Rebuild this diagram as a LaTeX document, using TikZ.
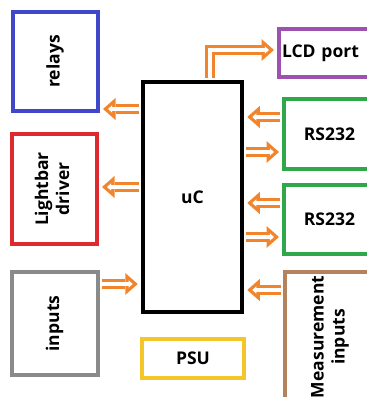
\documentclass[tikz,border=0pt]{standalone}
\usepackage{fontspec}
\setmainfont{Open Sans}
\usetikzlibrary{arrows.meta}
\definecolor{Orange}{HTML}{F2852B}
\definecolor{Blue}{HTML}{3F48C8}
\definecolor{Red}{HTML}{DC2A2E}
\definecolor{Gray}{HTML}{8A8A8A}
\definecolor{Purple}{HTML}{9C52AE}
\definecolor{Green}{HTML}{2EA84A}
\definecolor{Brown}{HTML}{B4825C}
\definecolor{Yellow}{HTML}{F4C62A}
\newcommand{\vtext}[1]{\rotatebox{90}{\begin{tabular}{@{}c@{}}#1\end{tabular}}}
\tikzset{
  blk/.style={draw=#1,line width=4pt,fill=white,inner sep=0pt,align=center,font=\fontsize{17.5}{21}\selectfont\bfseries},
  bus/.style={draw=Orange,line width=10.5pt,-{Triangle[length=12.5pt,width=22pt,line width=0pt]},shorten <=2pt,shorten >=3pt,
    postaction={draw=white,line width=3.9pt,-{Triangle[length=4.2pt,width=7.4pt,line width=0pt]},shorten <=2pt,shorten >=8pt}},
}

\begin{document}
\begin{tikzpicture}[x=1pt,y=-1pt]
        \path[use as bounding box] (0,0) rectangle (367,397);
        \clip (0,0) rectangle (367,397);
        % left column
        \node[blk=Blue,minimum width=85pt,minimum height=99pt] (relays) at (55.5,61.5) {\vtext{relays}};
        \node[blk=Red,minimum width=85pt,minimum height=110pt] (lightbar) at (54.5,189) {\vtext{Lightbar\\driver}};
        \node[blk=Gray,minimum width=86pt,minimum height=103pt] (inputs) at (55,323.5) {\vtext{inputs}};
        % controller and supply
        \node[blk=black,line width=4.5pt,minimum width=99pt,minimum height=230pt] (uC) at (192.5,197) {uC};
        \node[blk=Yellow,minimum width=102pt,minimum height=39pt] (psu) at (193,358.5) {PSU};
        % right column
        \node[blk=Purple,minimum width=96pt,minimum height=48pt,text width=90pt,inner xsep=3pt,align=left] (lcd) at (327,53) {LCD port};
        \node[blk=Green,minimum width=91pt,minimum height=70pt] (rsA) at (329.5,134) {RS232};
        \node[blk=Green,minimum width=91pt,minimum height=69pt] (rsB) at (329.5,219.5) {RS232};
        \node[blk=Brown,minimum width=90pt,minimum height=130pt] (meas) at (330,337) {\vtext{Measurement\\inputs}};
        % buses
        \draw[bus] (uC.west |- 0,109) -- (relays.east |- 0,109);
        \draw[bus] (uC.west |- 0,187) -- (lightbar.east |- 0,187);
        \draw[bus] (inputs.east |- 0,284) -- (uC.west |- 0,284);
        \draw[bus] (rsA.west |- 0,117) -- (uC.east |- 0,117);
        \draw[bus] (uC.east |- 0,152) -- (rsA.west |- 0,152);
        \draw[bus] (rsB.west |- 0,203) -- (uC.east |- 0,203);
        \draw[bus] (uC.east |- 0,237) -- (rsB.west |- 0,237);
        \draw[bus] (meas.west |- 0,290) -- (uC.east |- 0,290);
        \draw[bus] (uC.north -| 210,0) |- ([yshift=3pt]lcd.west);
      \end{tikzpicture}
\end{document}
